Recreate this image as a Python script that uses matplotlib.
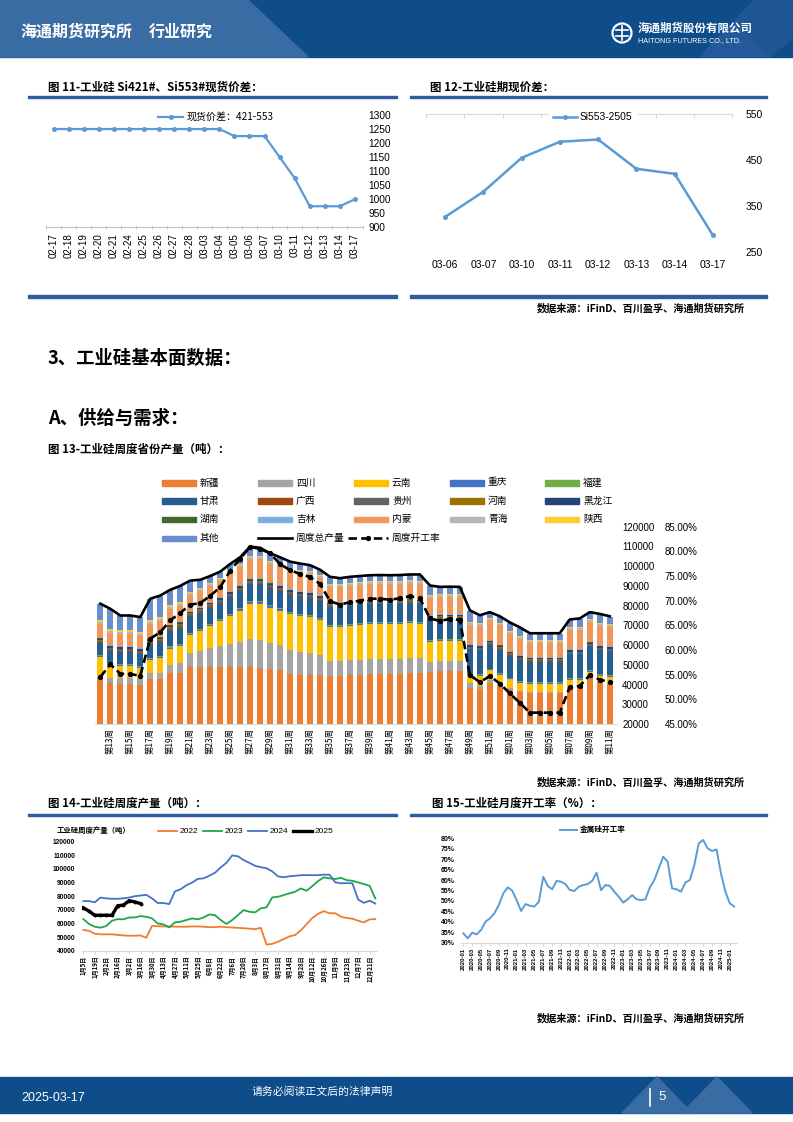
import numpy as np
import matplotlib
matplotlib.use("Agg")
import matplotlib.pyplot as plt
from matplotlib.patches import Rectangle, Polygon, Circle

plt.rcParams['font.family'] = ['Noto Sans CJK SC', 'DejaVu Sans']
plt.rcParams['axes.unicode_minus'] = False
NUM = ['Liberation Sans Narrow', 'Liberation Sans', 'DejaVu Sans']

# ---------------- data ----------------
spread_dates = ["02-17", "02-18", "02-19", "02-20", "02-21", "02-24", "02-25", "02-26", "02-27", "02-28",
                "03-03", "03-04", "03-05", "03-06", "03-07", "03-10", "03-11", "03-12", "03-13", "03-14", "03-17"]
spread_421_553 = [1250, 1250, 1250, 1250, 1250, 1250, 1250, 1250, 1250, 1250,
                  1250, 1250, 1225, 1225, 1225, 1150, 1075, 975, 975, 975, 1000]

basis_dates = ["03-06", "03-07", "03-10", "03-11", "03-12", "03-13", "03-14", "03-17"]
basis_553_2505 = [326, 381, 455, 490, 495, 431, 420, 286]

weeks = ["第12周", "第13周", "第14周", "第15周", "第16周", "第17周", "第18周", "第19周", "第20周", "第21周",
         "第22周", "第23周", "第24周", "第25周", "第26周", "第27周", "第28周", "第29周", "第30周", "第31周",
         "第32周", "第33周", "第34周", "第35周", "第36周", "第37周", "第38周", "第39周", "第40周", "第41周",
         "第42周", "第43周", "第44周", "第45周", "第46周", "第47周", "第48周", "第49周", "第50周", "第51周",
         "第52周", "第01周", "第02周", "第03周", "第04周", "第05周", "第06周", "第07周", "第08周", "第09周",
         "第10周", "第11周"]

xinjiang = [43000, 41000, 40500, 40500, 40000, 43000, 43000, 46000, 46000, 49000,
            49000, 49000, 49000, 49000, 49000, 49000, 48500, 48000, 47500, 45500,
            45000, 45000, 45000, 44500, 44500, 45000, 45000, 45500, 45500, 45500,
            45500, 46000, 46000, 46500, 47000, 47000, 47000, 38000, 37500, 41000,
            39000, 37500, 36000, 35500, 35500, 35500, 35500, 38000, 38500, 43500,
            41500, 40500]
sichuan = [1000, 2500, 3000, 3000, 3000, 3000, 3000, 4000, 5000, 7000,
           8000, 9500, 10500, 11500, 12500, 14000, 14000, 13000, 12500, 12000,
           11500, 11000, 10000, 7500, 7500, 7500, 7500, 7500, 7500, 7500,
           7500, 7500, 7500, 5000, 5000, 5000, 5000, 3000, 2000, 1200,
           800, 600, 500, 500, 500, 500, 500, 500, 500, 500,
           500, 500]
yunnan = [10000, 6500, 6000, 6000, 5500, 6500, 7500, 8000, 8500, 9000,
          10000, 11000, 12500, 14000, 16000, 18000, 18500, 18000, 17500, 18000,
          18000, 18000, 17500, 17000, 17000, 17000, 17500, 17500, 17500, 17500,
          17500, 17500, 17000, 10000, 10000, 10000, 10000, 4000, 5000, 5000,
          5000, 4500, 4500, 4500, 4500, 4500, 4500, 4000, 3500, 2500,
          2500, 3000]
chongqing = [600, 600, 600, 600, 600, 600, 600, 700, 700, 700,
             700, 700, 700, 700, 700, 700, 700, 700, 700, 700,
             700, 700, 700, 600, 600, 600, 600, 600, 600, 600,
             600, 600, 600, 600, 600, 600, 600, 500, 500, 500,
             500, 500, 500, 500, 500, 500, 500, 500, 500, 500,
             500, 500]
fujian = [500, 500, 500, 500, 500, 500, 500, 600, 600, 600,
          600, 600, 600, 600, 600, 600, 600, 600, 600, 600,
          600, 600, 600, 600, 600, 600, 600, 600, 600, 600,
          600, 600, 600, 600, 600, 600, 600, 400, 400, 400,
          400, 400, 400, 400, 400, 400, 400, 400, 400, 400,
          400, 400]
gansu = [6000, 6000, 6000, 6000, 6000, 7000, 7000, 8000, 8000, 8000,
         8000, 8000, 8000, 8500, 8500, 8500, 8500, 8500, 8500, 8500,
         8500, 8500, 8500, 9000, 9000, 9000, 9000, 9000, 9000, 9000,
         9000, 9000, 9000, 10000, 10000, 10000, 10000, 12000, 12000, 12000,
         12000, 11000, 10500, 10000, 10000, 10000, 10000, 12000, 12000, 12000,
         12000, 12000]
guangxi = [400, 400, 400, 400, 400, 400, 400, 400, 400, 400,
           400, 400, 400, 400, 400, 400, 400, 400, 400, 400,
           400, 400, 400, 300, 300, 300, 300, 300, 300, 300,
           300, 300, 300, 300, 300, 300, 300, 300, 300, 300,
           300, 300, 300, 300, 300, 300, 300, 300, 300, 300,
           300, 300]
guizhou = [800, 800, 800, 800, 800, 800, 800, 1000, 1000, 1000,
           1000, 1000, 1000, 1000, 1000, 1000, 1000, 1000, 1000, 1000,
           1000, 1000, 1000, 800, 800, 800, 800, 800, 800, 800,
           800, 800, 800, 800, 800, 800, 800, 700, 700, 700,
           700, 700, 700, 700, 700, 700, 700, 700, 700, 700,
           700, 700]
henan = [300, 300, 300, 300, 300, 300, 300, 400, 400, 400,
         400, 400, 400, 400, 400, 400, 400, 400, 400, 400,
         400, 400, 400, 300, 300, 300, 300, 300, 300, 300,
         300, 300, 300, 300, 300, 300, 300, 300, 300, 300,
         300, 300, 300, 300, 300, 300, 300, 300, 300, 300,
         300, 300]
heilongjiang = [700, 700, 700, 700, 700, 700, 700, 600, 600, 600,
                600, 600, 600, 600, 600, 600, 600, 600, 600, 600,
                600, 600, 600, 500, 500, 500, 500, 500, 500, 500,
                500, 500, 500, 500, 500, 500, 500, 600, 600, 600,
                600, 600, 600, 600, 600, 600, 600, 600, 600, 600,
                600, 600]
hunan = [200, 200, 200, 200, 200, 200, 200, 300, 300, 300,
         300, 300, 300, 300, 300, 300, 300, 300, 300, 300,
         300, 300, 300, 200, 200, 200, 200, 200, 200, 200,
         200, 200, 200, 200, 200, 200, 200, 200, 200, 200,
         200, 200, 200, 200, 200, 200, 200, 200, 200, 200,
         200, 200]
jilin = [300, 300, 300, 300, 300, 300, 300, 400, 400, 400,
         400, 400, 400, 400, 400, 400, 400, 400, 400, 400,
         400, 400, 400, 300, 300, 300, 300, 300, 300, 300,
         300, 300, 300, 300, 300, 300, 300, 300, 300, 300,
         300, 300, 300, 300, 300, 300, 300, 300, 300, 300,
         300, 300]
neimeng = [7000, 6500, 6500, 6500, 6500, 7500, 8000, 8000, 8000, 8000,
           8000, 8000, 8000, 9000, 9000, 9500, 9500, 9000, 9000, 9000,
           9000, 9000, 8500, 8000, 8000, 8000, 8000, 8000, 8000, 8000,
           8000, 8000, 8000, 9000, 9000, 9000, 9000, 10000, 10000, 10000,
           10000, 9000, 8500, 7500, 7500, 7500, 7500, 10000, 10000, 10000,
           10000, 10000]
qinghai = [1000, 1000, 1000, 1000, 1000, 1000, 1000, 1000, 1000, 1000,
           1000, 1000, 1000, 1000, 1000, 1000, 1000, 1000, 1000, 1000,
           1000, 1000, 1000, 900, 900, 900, 900, 900, 900, 900,
           900, 900, 900, 900, 900, 900, 900, 800, 800, 800,
           800, 800, 800, 800, 800, 800, 800, 800, 800, 800,
           800, 800]
shaanxi = [700, 700, 700, 700, 700, 700, 700, 700, 700, 700,
           700, 700, 700, 700, 700, 700, 700, 700, 700, 700,
           700, 700, 700, 600, 600, 600, 600, 600, 600, 600,
           600, 600, 600, 600, 600, 600, 600, 500, 500, 500,
           500, 500, 500, 500, 500, 500, 500, 500, 500, 500,
           500, 500]
qita = [8500, 10400, 7500, 7500, 7700, 11000, 11100, 7900, 8400, 5600,
        4000, 3400, 3100, 3000, 3400, 4800, 4200, 3900, 3400, 3200,
        3200, 2900, 2600, 3200, 2500, 2700, 2600, 2500, 2600, 2500,
        2600, 2400, 2900, 4300, 3100, 3200, 3100, 5700, 3700, 2600,
        2900, 4000, 4100, 3100, 3100, 3100, 3100, 3600, 4100, 3300,
        4400, 3700]
weekly_total = [81000, 78400, 75000, 75000, 74200, 83500, 85100, 88000, 90000, 92700,
                93100, 95000, 97200, 101100, 104500, 109900, 109300, 106500, 104500, 102300,
                101300, 100500, 98200, 94600, 93900, 94600, 95000, 95400, 95500, 95400,
                95500, 95800, 95800, 90200, 89500, 89600, 89500, 77600, 75100, 76700,
                74600, 71500, 69000, 66000, 66000, 66000, 66000, 73000, 73500, 76700,
                75800, 74600]
weekly_rate = [54.5, 57.1, 55.2, 55.1, 54.8, 62.3, 63.6, 66.0, 67.5, 69.2,
               69.5, 71.0, 72.7, 76.1, 78.5, 80.9, 80.5, 79.6, 77.4, 76.2,
               75.4, 74.8, 73.4, 69.9, 69.2, 69.7, 70.0, 70.4, 70.4, 70.2,
               70.5, 70.9, 70.5, 66.4, 65.9, 66.3, 66.1, 54.9, 53.5, 54.7,
               53.2, 51.2, 49.3, 47.3, 47.3, 47.3, 47.3, 52.5, 52.7, 54.9,
               54.0, 53.5]

prov_names = ["新疆", "四川", "云南", "重庆", "福建", "甘肃", "广西", "贵州",
              "河南", "黑龙江", "湖南", "吉林", "内蒙", "青海", "陕西", "其他"]
prov_values = [xinjiang, sichuan, yunnan, chongqing, fujian, gansu, guangxi, guizhou,
               henan, heilongjiang, hunan, jilin, neimeng, qinghai, shaanxi, qita]
prov_colors = ["#ED7D31", "#A5A5A5", "#FFC000", "#4472C4", "#70AD47", "#255E91", "#9E480E", "#636363",
               "#997300", "#264478", "#43682B", "#7CAFDD", "#F1975A", "#B7B7B7", "#FFCD33", "#698ED0"]

# chart 14 (weekly production by year)
week_date_labels = ["1月5日", "1月19日", "2月2日", "2月16日", "3月2日", "3月16日", "3月30日", "4月13日",
                    "4月27日", "5月11日", "5月25日", "6月8日", "6月22日", "7月6日", "7月20日", "8月3日",
                    "8月17日", "8月31日", "9月14日", "9月28日", "10月12日", "10月26日", "11月9日",
                    "11月23日", "12月7日", "12月21日"]
y2022 = [55200, 54600, 52500, 52000, 52000, 52000, 51600, 51200, 51000, 51000,
         51200, 49500, 58200, 58000, 57800, 57800, 57600, 57600, 57600, 57800,
         57800, 57600, 57300, 57300, 57600, 57300, 57000, 56800, 56500, 56200,
         55800, 56800, 44500, 45000, 46600, 48500, 50500, 51500, 55000, 59500,
         64000, 67000, 69000, 67500, 67500, 65000, 64000, 63500, 62000, 60800,
         63000, 63200]
y2023 = [63200, 59600, 57600, 56900, 58100, 62000, 63200, 63000, 64400, 64400,
         65400, 64900, 63700, 60000, 59300, 57100, 60800, 61300, 62500, 63700,
         63000, 64400, 66600, 66100, 62500, 59600, 62500, 66100, 69800, 68600,
         68100, 71100, 71800, 79100, 79600, 80800, 82100, 83300, 85700, 84000,
         87400, 91100, 93800, 93100, 92600, 93500, 91800, 91300, 90100, 88900,
         87700, 78400]
y2024 = [76400, 76400, 75500, 79000, 78400, 78100, 78100, 78400, 79000, 80000,
         80500, 81000, 78400, 75000, 75000, 74200, 83500, 85100, 88000, 90000,
         92700, 93100, 95000, 97200, 101100, 104500, 109900, 109300, 106500, 104500,
         102300, 101300, 100500, 98200, 94600, 93900, 94600, 95000, 95400, 95500,
         95400, 95500, 95800, 95800, 90200, 89500, 89600, 89500, 77600, 75100,
         76700, 74600]
y2025 = [71500, 69000, 66000, 66000, 66000, 66000, 73000, 73500, 76700, 75800, 74600]

# chart 15 (monthly operating rate)
month_labels = ["2020-01", "2020-03", "2020-05", "2020-07", "2020-09", "2020-11",
                "2021-01", "2021-03", "2021-05", "2021-07", "2021-09", "2021-11",
                "2022-01", "2022-03", "2022-05", "2022-07", "2022-09", "2022-11",
                "2023-01", "2023-03", "2023-05", "2023-07", "2023-09", "2023-11",
                "2024-01", "2024-03", "2024-05", "2024-07", "2024-09", "2024-11", "2025-01"]
monthly_rate = [34.5, 32.1, 34.8, 34.0, 36.1, 40.1, 41.7, 44.1, 48.1, 53.6,
                56.5, 55.0, 50.4, 45.2, 48.5, 47.7, 47.3, 49.6, 61.6, 57.2,
                55.6, 59.6, 59.2, 58.0, 55.2, 54.8, 56.8, 57.6, 58.1, 59.6,
                63.5, 55.2, 57.6, 57.2, 54.4, 52.0, 49.2, 50.8, 52.8, 50.8,
                50.4, 50.8, 56.5, 60.0, 65.6, 71.2, 68.8, 56.0, 55.6, 54.4,
                58.8, 60.0, 67.2, 77.6, 79.2, 75.2, 73.9, 74.7, 63.2, 54.4,
                48.8, 47.3]

# ---------------- figure ----------------
W, H = 793, 1122
fig = plt.figure(figsize=(W / 100, H / 100), dpi=100)
bg = fig.add_axes([0, 0, 1, 1])
bg.set_xlim(0, W)
bg.set_ylim(H, 0)
bg.axis('off')

DARK = '#0E4C8A'
LINEBLUE = '#2F5B9F'


def px_axes(x0, y0, x1, y1):
    a = fig.add_axes([x0 / W, 1 - y1 / H, (x1 - x0) / W, (y1 - y0) / H])
    a.patch.set_visible(False)
    return a


# header
bg.add_patch(Rectangle((0, 0), W, 57, color=DARK, zorder=0))
bg.add_patch(Polygon([(0, 0), (248, 0), (308, 57), (0, 57)], closed=True, color='#3A6CA4', zorder=1))
bg.add_patch(Polygon([(700, 57), (735, 20), (770, 57)], closed=True, color='#23599A', zorder=1))
bg.add_patch(Polygon([(735, 20), (755, 0), (793, 0), (793, 38), (770, 57)], closed=True, color='#1D5595', zorder=1))
bg.text(20, 32, '海通期货研究所', color='white', fontsize=11.5, va='center', ha='left', fontweight='bold', zorder=3)
bg.text(149, 32, '行业研究', color='white', fontsize=11.5, va='center', ha='left', fontweight='bold', zorder=3)
bg.add_patch(Circle((622, 33), 9.5, fill=False, ec='white', lw=1.6, zorder=3))
bg.plot([616, 628], [30, 30], color='white', lw=1.2, zorder=3)
bg.plot([616, 628], [36, 36], color='white', lw=1.2, zorder=3)
bg.plot([622, 622], [26, 40], color='white', lw=1.2, zorder=3)
bg.text(638, 28, '海通期货股份有限公司', color='white', fontsize=8.3, va='center', ha='left', fontweight='bold', zorder=3)
bg.text(638, 40.5, 'HAITONG FUTURES CO., LTD.', color='white', fontsize=5.2, va='center', ha='left',
        family=NUM, zorder=3)

# footer
bg.add_patch(Rectangle((0, 1077), W, 36, color=DARK, zorder=0))
bg.add_patch(Polygon([(622, 1113), (657, 1077), (692, 1113)], closed=True, color='#3A6CA4', zorder=1))
bg.add_patch(Polygon([(682, 1113), (717, 1077), (752, 1113)], closed=True, color='#3A6CA4', zorder=1))
bg.text(21, 1098, '2025-03-17', color='white', fontsize=9, va='center', ha='left', family=NUM, zorder=3)
bg.text(322, 1092, '请务必阅读正文后的法律声明', color='white', fontsize=7.8, va='center', ha='center', zorder=3)
bg.plot([650, 650], [1089, 1106], color='white', lw=1.2, zorder=3)
bg.text(658, 1097, '5', color='white', fontsize=9.5, va='center', ha='left', family=NUM, zorder=3)

# titles and rules
TFS = 8.3
SFS = 7.3
bg.text(48, 87, '图 11-工业硅 Si421#、Si553#现货价差：', fontsize=TFS, fontweight='bold', va='center')
bg.text(430, 87, '图 12-工业硅期现价差：', fontsize=TFS, fontweight='bold', va='center')
for (xa, xb) in [(28, 397), (410, 767)]:
    bg.add_patch(Rectangle((xa, 95.5), xb - xa, 2.8, color=LINEBLUE, zorder=1))
    bg.add_patch(Rectangle((xa, 295.3), xb - xa, 2.8, color=LINEBLUE, zorder=1))
    bg.add_patch(Rectangle((xa, 813.6), xb - xa, 2.8, color=LINEBLUE, zorder=1))
bg.text(745, 308, '数据来源：iFinD、百川盈孚、海通期货研究所', fontsize=SFS, fontweight='bold', va='center', ha='right')
bg.text(48, 358, '3、工业硅基本面数据：', fontsize=13.2, fontweight='bold', va='center')
bg.text(48, 418, 'A、供给与需求：', fontsize=13.2, fontweight='bold', va='center')
bg.text(48, 449, '图 13-工业硅周度省份产量（吨）：', fontsize=TFS, fontweight='bold', va='center')
bg.text(745, 782, '数据来源：iFinD、百川盈孚、海通期货研究所', fontsize=SFS, fontweight='bold', va='center', ha='right')
bg.text(48, 803, '图 14-工业硅周度产量（吨）：', fontsize=TFS, fontweight='bold', va='center')
bg.text(432, 803, '图 15-工业硅月度开工率（%）：', fontsize=TFS, fontweight='bold', va='center')
bg.text(745, 1018, '数据来源：iFinD、百川盈孚、海通期货研究所', fontsize=SFS, fontweight='bold', va='center', ha='right')

LBLUE = '#5B9BD5'
GRAYAX = '#BFBFBF'

# ---------------- chart 11 ----------------
ax11 = px_axes(46, 115, 362.5, 227.3)
x11 = np.arange(len(spread_dates))
ax11.plot(x11, spread_421_553, color=LBLUE, lw=1.6, marker='o', ms=2.6, zorder=3)
ax11.set_xlim(-0.5, len(spread_dates) - 0.5)
ax11.set_ylim(900, 1300)
ax11.set_yticks(np.arange(900, 1301, 50))
ax11.yaxis.tick_right()
ax11.tick_params(axis='y', length=0, pad=4.5, labelsize=7.3)
ax11.set_xticks(x11)
ax11.set_xticklabels(spread_dates, rotation=90, fontsize=7)
ax11.set_xticks(np.arange(-0.5, len(spread_dates)), minor=True)
ax11.tick_params(axis='x', which='major', length=0, pad=4)
ax11.tick_params(axis='x', which='minor', length=3, direction='inout', color=GRAYAX)
for lab in ax11.get_xticklabels() + ax11.get_yticklabels():
    lab.set_family(NUM)
for s in ['top', 'left', 'right']:
    ax11.spines[s].set_visible(False)
ax11.spines['bottom'].set_color(GRAYAX)
ax11.spines['bottom'].set_linewidth(0.8)
bg.plot([158, 183], [117, 117], color=LBLUE, lw=1.6, zorder=3)
bg.plot([170.5], [117], color=LBLUE, marker='o', ms=2.6, zorder=3)
bg.text(187, 117, '现货价差：421-553', fontsize=7.2, va='center', ha='left', zorder=3)

# ---------------- chart 12 ----------------
ax12 = px_axes(426, 114.3, 732, 251.7)
x12 = np.arange(len(basis_dates))
ax12.plot(x12, basis_553_2505, color=LBLUE, lw=1.8, marker='o', ms=2.6, zorder=3)
ax12.set_xlim(-0.5, len(basis_dates) - 0.5)
ax12.set_ylim(250, 550)
ax12.set_yticks([250, 350, 450, 550])
ax12.yaxis.tick_right()
ax12.tick_params(axis='y', length=0, pad=10, labelsize=7.4)
ax12.set_xticks(x12)
ax12.set_xticklabels(basis_dates, fontsize=7.4)
ax12.set_xticks(np.arange(-0.5, len(basis_dates)), minor=True)
ax12.tick_params(axis='x', which='major', length=0, pad=6, bottom=False)
ax12.tick_params(axis='x', which='minor', length=3, direction='in', color='#D0D0D0', bottom=False, top=True)
for lab in ax12.get_xticklabels() + ax12.get_yticklabels():
    lab.set_family(NUM)
for s in ['bottom', 'left', 'right']:
    ax12.spines[s].set_visible(False)
ax12.spines['top'].set_color('#D9D9D9')
ax12.spines['top'].set_linewidth(0.8)

# ---------------- chart 13 ----------------
ax13 = px_axes(94.5, 526.7, 615.5, 724)
x13 = np.arange(len(weeks))
bottom = np.zeros(len(weeks))
for vals, col in zip(prov_values, prov_colors):
    ax13.bar(x13, vals, width=0.56, bottom=bottom, color=col, linewidth=0, zorder=2)
    bottom = bottom + np.array(vals)
ax13.plot(x13, weekly_total, color='black', lw=1.9, zorder=4)
ax13.set_xlim(-0.58, len(weeks) - 0.42)
ax13.set_ylim(20000, 120000)
ax13.set_yticks(np.arange(20000, 120001, 10000))
ax13.set_xticks(x13[1::2])
ax13.set_xticklabels(weeks[1::2], rotation=90, fontsize=6)
ax13.tick_params(axis='x', length=0, pad=3)
for s in ['top', 'left', 'right']:
    ax13.spines[s].set_visible(False)
ax13.spines['bottom'].set_color('#D9D9D9')

ax13r = ax13.twinx()
ax13r.patch.set_visible(False)
ax13r.plot(x13, weekly_rate, color='black', lw=1.9, ls=(0, (3.2, 1.6)), marker='o', ms=2.8, zorder=5)
ax13r.set_ylim(45, 85)
ax13r.set_yticks(np.arange(45, 86, 5))
ax13r.set_yticklabels([f"{v:.2f}%" for v in np.arange(45, 86, 5)])
ax13r.tick_params(axis='y', length=0, pad=35.5, labelsize=7)
for lab in ax13r.get_yticklabels():
    lab.set_family(NUM)
for s in ['top', 'left', 'right', 'bottom']:
    ax13r.spines[s].set_visible(False)
# twinx moves the primary ticks to the left; put them back on the right
ax13.yaxis.tick_right()
ax13.tick_params(axis='y', length=0, pad=4.8, labelsize=7, left=False, labelleft=False, right=False, labelright=True)
for lab in ax13.get_yticklabels():
    lab.set_family(NUM)

# chart 13 legend (Excel-style grid)
col_x = [162, 258, 354, 450, 545]
row_y = [482.7, 500.7, 519.3, 538.3]
for i, (name, col) in enumerate(zip(prov_names, prov_colors)):
    r, c = divmod(i, 5)
    bg.add_patch(Rectangle((col_x[c], row_y[r] - 2.8), 34, 5.6, color=col, zorder=3))
    bg.text(col_x[c] + 38, row_y[r], name, fontsize=7, va='center', ha='left', zorder=3)
bg.plot([col_x[1], col_x[1] + 34], [row_y[3], row_y[3]], color='black', lw=1.9, zorder=3)
bg.text(col_x[1] + 38, row_y[3], '周度总产量', fontsize=7, va='center', ha='left', zorder=3)
bg.plot([col_x[2] - 6, col_x[2] + 34], [row_y[3], row_y[3]], color='black', lw=1.9, ls=(0, (3.2, 1.6)), zorder=3)
bg.plot([col_x[2] + 14], [row_y[3]], color='black', marker='o', ms=2.8, zorder=3)
bg.text(col_x[2] + 38, row_y[3], '周度开工率', fontsize=7, va='center', ha='left', zorder=3)

# ---------------- chart 14 ----------------
ax14 = px_axes(81.6, 841.7, 377, 950.7)
ax14.plot(np.arange(len(y2022)), y2022, color='#ED7D31', lw=1.3, zorder=2)
ax14.plot(np.arange(len(y2023)), y2023, color='#1FA64A', lw=1.3, zorder=2)
ax14.plot(np.arange(len(y2024)), y2024, color='#4472C4', lw=1.3, zorder=2)
ax14.plot(np.arange(len(y2025)), y2025, color='black', lw=2.4, marker='o', ms=1.8, zorder=4)
ax14.set_xlim(-0.3, 51.3)
ax14.set_ylim(40000, 120000)
ax14.set_yticks(np.arange(40000, 120001, 10000))
ax14.tick_params(axis='y', length=0, pad=4.5, labelsize=4.8)
ax14.set_xticks(np.arange(0, 52, 2))
ax14.set_xticklabels(week_date_labels, rotation=90, fontsize=4.3, fontweight='bold')
ax14.tick_params(axis='x', length=2, pad=1.5, color='#D9D9D9')
for lab in ax14.get_yticklabels():
    lab.set_family(NUM)
    lab.set_fontweight('bold')
for s in ['top', 'left', 'right']:
    ax14.spines[s].set_visible(False)
ax14.spines['bottom'].set_color('#D9D9D9')
bg.text(57, 830, '工业硅周度产量（吨）', fontsize=5.3, fontweight='bold', va='center', ha='left')
for (xa, lab, col, lw) in [(158, '2022', '#ED7D31', 1.3), (203, '2023', '#1FA64A', 1.3),
                           (248, '2024', '#4472C4', 1.3), (293, '2025', 'black', 2.4)]:
    bg.plot([xa, xa + 19], [831, 831], color=col, lw=lw, zorder=3)
    bg.text(xa + 22, 831, lab, fontsize=6, va='center', ha='left', family=NUM, zorder=3)

# ---------------- chart 15 ----------------
ax15 = px_axes(461.1, 838.3, 736.5, 942.7)
m = np.arange(len(monthly_rate))
ax15.plot(m, monthly_rate, color=LBLUE, lw=1.4, zorder=2)
ax15.set_xlim(-0.5, len(monthly_rate) - 0.5)
ax15.set_ylim(30, 80)
ax15.set_yticks(np.arange(30, 81, 5))
ax15.set_yticklabels([f"{v}%" for v in np.arange(30, 81, 5)])
ax15.tick_params(axis='y', length=0, pad=4.5, labelsize=5)
ax15.set_xticks(np.arange(0, len(monthly_rate), 2))
ax15.set_xticklabels(month_labels, rotation=90, fontsize=4.3, fontweight='bold')
ax15.tick_params(axis='x', length=2, pad=1.5, color='#D9D9D9')
for lab in ax15.get_yticklabels():
    lab.set_family(NUM)
    lab.set_fontweight('bold')
for lab in ax15.get_xticklabels():
    lab.set_family(NUM)
for s in ['top', 'left', 'right']:
    ax15.spines[s].set_visible(False)
ax15.spines['bottom'].set_color('#D9D9D9')
bg.plot([560, 577], [829.5, 829.5], color=LBLUE, lw=1.4, zorder=3)
bg.text(580, 829.5, '金属硅开工率', fontsize=5.5, fontweight='bold', va='center', ha='left', zorder=3)

# overlay for the chart 12 legend (it sits on top of the axis line)
fg = fig.add_axes([0, 0, 1, 1])
fg.set_xlim(0, W)
fg.set_ylim(H, 0)
fg.axis('off')
fg.patch.set_visible(False)
fg.add_patch(Rectangle((549, 110), 88, 14, color='white', zorder=1))
fg.plot([553, 577], [117, 117], color=LBLUE, lw=1.8, zorder=2)
fg.plot([565], [117], color=LBLUE, marker='o', ms=2.6, zorder=2)
fg.text(580, 117, 'Si553-2505', fontsize=7.4, va='center', ha='left', family=NUM, zorder=3)

fig.savefig('out.png', dpi=100)
